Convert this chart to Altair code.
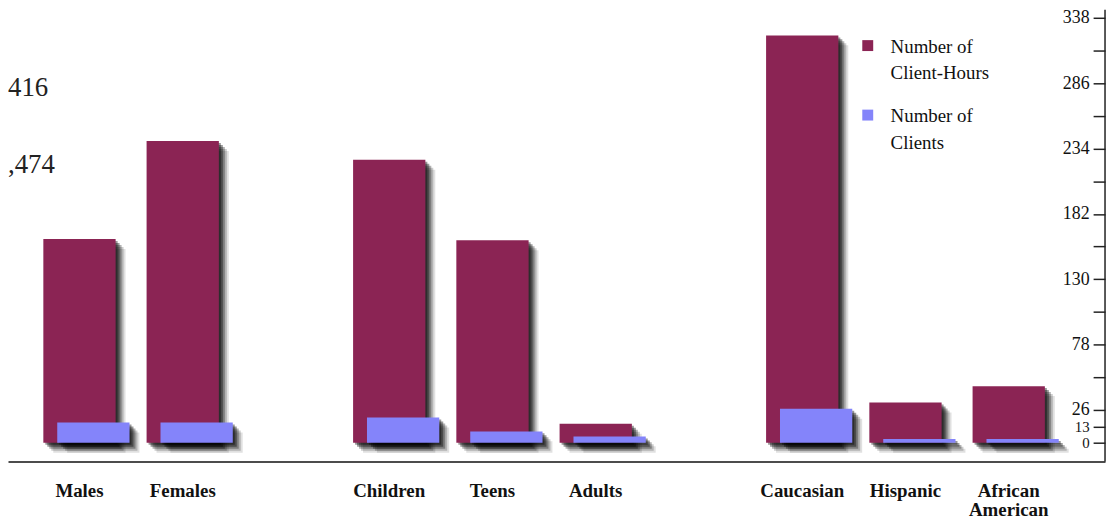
import altair as alt
import pandas as pd

# ---- data ----
categories = ["Males", "Females", "Children", "Teens", "Adults",
              "Caucasian", "Hispanic", "African American"]
client_hours = [162, 240, 225, 161, 15, 324, 32, 45]
clients = [16, 16, 20, 9, 5, 27, 3, 3]
series = ["Number of Client-Hours", "Number of Clients"]
colors = ["#8B2454", "#8484FA"]
slot_order = ["Males", "Females", "_gap1", "Children", "Teens", "Adults",
              "_gap2", "Caucasian", "Hispanic", "African American"]
y_ticks = [0, 13, 26, 52, 78, 104, 130, 156, 182, 208, 234, 260, 286, 312, 338]
y_labeled = [0, 13, 26, 78, 130, 182, 234, 286, 338]
side_notes = ["416", ",474"]

df = pd.DataFrame({
    "category": categories * 2,
    "series": [series[0]] * len(categories) + [series[1]] * len(categories),
    "value": client_hours + clients,
})

W, H = 1105, 428
TOP = 8
SERIF = "Liberation Serif"

xscale = alt.Scale(domain=slot_order, paddingInner=0, paddingOuter=0.3125, align=0.3077)
yscale = alt.Scale(domain=[0, 338], nice=False, zero=True)
cscale = alt.Scale(domain=series, range=colors)

xaxis = alt.Axis(
    title=None, orient="bottom", offset=19, domainColor="#111", domainWidth=1.5,
    ticks=False, grid=False, labelAngle=0, labelPadding=20, labelBaseline="top",
    labelFont=SERIF, labelFontSize=19, labelFontWeight="bold", labelColor="#111",
    labelLineHeight=19, labelLimit=0,
    labelExpr="datum.label == 'African American' ? ['African', 'American'] : "
              "(indexof(datum.label, '_gap') == 0 ? '' : datum.label)",
)
yaxis = alt.Axis(
    title=None, orient="left", offset=-W, domain=False, grid=False,
    values=y_ticks, tickSize=12, tickWidth=1.5, tickColor="#222",
    labelFont=SERIF, labelColor="#111", labelPadding=4,
    labelFontSize=alt.condition("datum.value <= 13", alt.value(15), alt.value(18)),
    labelExpr=f"indexof({y_labeled}, datum.value) >= 0 ? datum.label : ''",
)


def bars(idx, color=None, opacity=1.0, dx=0, dy=0, shift=0):
    s = series[idx]
    mark = dict(width=alt.RelativeBandSize(0.7), xOffset=shift + dx, x2Offset=shift + dx,
                yOffset=dy, y2Offset=dy, opacity=opacity)
    enc = dict(
        x=alt.X("category:N", scale=xscale, sort=slot_order, axis=xaxis),
        y=alt.Y("value:Q", scale=yscale, axis=yaxis),
    )
    if color is None:
        enc["color"] = alt.Color("series:N", scale=cscale, legend=None)
    else:
        mark["color"] = color
    return alt.Chart(df).transform_filter(alt.datum.series == s).mark_bar(**mark).encode(**enc)


layers = []
# maroon bars with soft shadow
for d, o in [(10, 0.12), (8, 0.2), (6, 0.3), (4, 0.4), (2, 0.4)]:
    layers.append(bars(0, color="black", opacity=o, dx=d, dy=d))
layers.append(bars(0))
# blue bars (offset right) with shadow
for d, o in [(10, 0.12), (8, 0.2), (6, 0.3), (4, 0.4), (2, 0.4)]:
    layers.append(bars(1, color="black", opacity=o, dx=d, dy=d, shift=14))
layers.append(bars(1, shift=14))

one = alt.Data(values=[{"k": 0}])
# right-hand vertical axis line
layers.append(alt.Chart(one).mark_rule(color="#222", strokeWidth=1.5).encode(
    x=alt.value(W), y=alt.value(-TOP), y2=alt.value(H + 19)))

# manual legend
leg_df = pd.DataFrame({"series": series})
for i, s in enumerate(series):
    base = alt.Chart(leg_df).transform_filter(alt.datum.series == s)
    layers.append(base.mark_square(size=121, opacity=1).encode(
        x=alt.value(866), y=alt.value(36 - TOP + 70 * i),
        color=alt.Color("series:N", scale=cscale, legend=None)))
    layers.append(base.transform_calculate(
        lbl="replace(datum.series, ' of ', ' of\\n')"
    ).mark_text(align="left", baseline="alphabetic", font=SERIF, fontSize=19,
                color="#111", lineBreak="\n", lineHeight=27).encode(
        x=alt.value(889), y=alt.value(43 - TOP + 70 * i), text="lbl:N"))

# side notes at the left edge
for i, t in enumerate(side_notes):
    layers.append(alt.Chart(pd.DataFrame({"t": [t]})).mark_text(
        align="left", baseline="alphabetic", font=SERIF, fontSize=27, color="#222"
    ).encode(x=alt.value(0), y=alt.value(87 - TOP + 77 * i), text="t:N"))

chart = alt.layer(*layers).properties(
    width=W, height=H,
    background="white",
    autosize=alt.AutoSizeParams(type="none"),
    padding={"left": 0, "top": TOP, "right": 3, "bottom": 512 - TOP - H},
).configure_view(stroke="transparent", strokeWidth=0)

chart.save("out.html", embed_options={"renderer": "svg", "actions": False})
